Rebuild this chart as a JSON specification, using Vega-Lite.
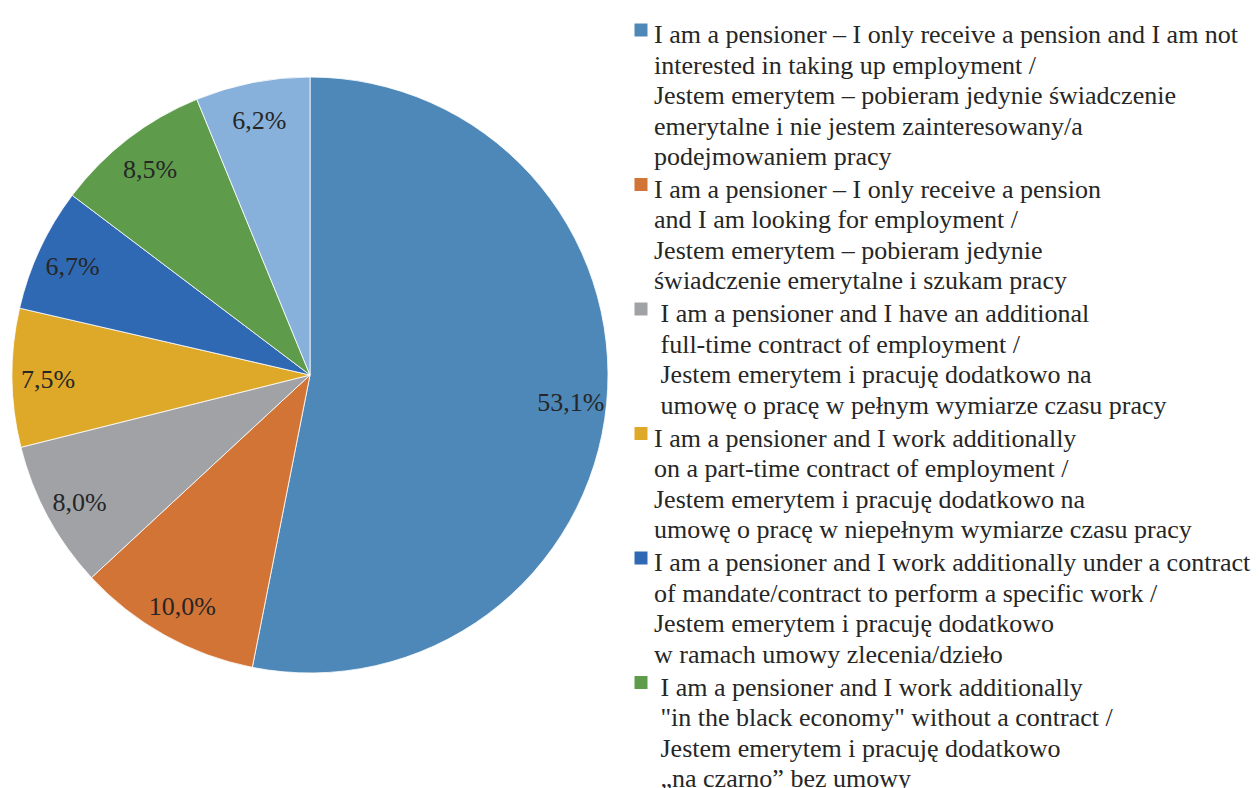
{
  "$schema": "https://vega.github.io/schema/vega-lite/v6.json",
  "width": 620,
  "height": 750,
  "autosize": {"type": "none"},
  "padding": {"left": 0, "top": 0, "right": 639, "bottom": 38},
  "background": "white",
  "data": {
    "values": [
      {"order": 1, "category": "I am a pensioner – I only receive a pension and I am not|interested in taking up employment /|Jestem emerytem – pobieram jedynie świadczenie|emerytalne i nie jestem zainteresowany/a|podejmowaniem pracy", "value": 53.1, "label": "53,1%"},
      {"order": 2, "category": "I am a pensioner – I only receive a pension|and I am looking for employment /|Jestem emerytem – pobieram jedynie|świadczenie emerytalne i szukam pracy", "value": 10.0, "label": "10,0%"},
      {"order": 3, "category": "\u200b\u00a0I am a pensioner and I have an additional|\u200b\u00a0full-time contract of employment /|\u200b\u00a0Jestem emerytem i pracuję dodatkowo na|\u200b\u00a0umowę o pracę w pełnym wymiarze czasu pracy", "value": 8.0, "label": "8,0%"},
      {"order": 4, "category": "I am a pensioner and I work additionally|on a part-time contract of employment /|Jestem emerytem i pracuję dodatkowo na|umowę o pracę w niepełnym wymiarze czasu pracy", "value": 7.5, "label": "7,5%"},
      {"order": 5, "category": "I am a pensioner and I work additionally under a contract|of mandate/contract to perform a specific work /|Jestem emerytem i pracuję dodatkowo|w ramach umowy zlecenia/dzieło", "value": 6.7, "label": "6,7%"},
      {"order": 6, "category": "\u200b\u00a0I am a pensioner and I work additionally|\u200b\u00a0\"in the black economy\" without a contract /|\u200b\u00a0Jestem emerytem i pracuję dodatkowo|\u200b\u00a0„na czarno” bez umowy", "value": 8.5, "label": "8,5%"},
      {"order": 7, "category": "Other / Inne", "value": 6.2, "label": "6,2%"}
    ]
  },
  "encoding": {
    "theta": {"field": "value", "type": "quantitative", "stack": true},
    "order": {"field": "order", "type": "quantitative", "sort": "ascending"}
  },
  "layer": [
    {
      "mark": {"type": "arc", "outerRadius": 298, "stroke": "white", "strokeWidth": 0.8},
      "encoding": {
        "color": {
          "field": "category",
          "type": "nominal",
          "scale": {
            "domain": [
              "I am a pensioner – I only receive a pension and I am not|interested in taking up employment /|Jestem emerytem – pobieram jedynie świadczenie|emerytalne i nie jestem zainteresowany/a|podejmowaniem pracy",
              "I am a pensioner – I only receive a pension|and I am looking for employment /|Jestem emerytem – pobieram jedynie|świadczenie emerytalne i szukam pracy",
              "\u200b\u00a0I am a pensioner and I have an additional|\u200b\u00a0full-time contract of employment /|\u200b\u00a0Jestem emerytem i pracuję dodatkowo na|\u200b\u00a0umowę o pracę w pełnym wymiarze czasu pracy",
              "I am a pensioner and I work additionally|on a part-time contract of employment /|Jestem emerytem i pracuję dodatkowo na|umowę o pracę w niepełnym wymiarze czasu pracy",
              "I am a pensioner and I work additionally under a contract|of mandate/contract to perform a specific work /|Jestem emerytem i pracuję dodatkowo|w ramach umowy zlecenia/dzieło",
              "\u200b\u00a0I am a pensioner and I work additionally|\u200b\u00a0\"in the black economy\" without a contract /|\u200b\u00a0Jestem emerytem i pracuję dodatkowo|\u200b\u00a0„na czarno” bez umowy",
              "Other / Inne"
            ],
            "range": ["#4D88B9", "#D17436", "#A1A2A6", "#DEA829", "#2F69B3", "#5E9C4B", "#87B0DA"]
          },
          "legend": {
            "title": null,
            "orient": "none",
            "legendX": 628,
            "legendY": 17,
            "padding": 0,
            "symbolType": "square",
            "symbolSize": 169,
            "symbolStrokeWidth": 0,
            "labelFont": "Liberation Serif",
            "labelFontSize": 26,
            "labelColor": "#262626",
            "labelLimit": 0,
            "labelOffset": 0,
            "labelBaseline": "top",
            "rowPadding": 1.5,
            "values": [
              "I am a pensioner – I only receive a pension and I am not|interested in taking up employment /|Jestem emerytem – pobieram jedynie świadczenie|emerytalne i nie jestem zainteresowany/a|podejmowaniem pracy",
              "I am a pensioner – I only receive a pension|and I am looking for employment /|Jestem emerytem – pobieram jedynie|świadczenie emerytalne i szukam pracy",
              "\u200b\u00a0I am a pensioner and I have an additional|\u200b\u00a0full-time contract of employment /|\u200b\u00a0Jestem emerytem i pracuję dodatkowo na|\u200b\u00a0umowę o pracę w pełnym wymiarze czasu pracy",
              "I am a pensioner and I work additionally|on a part-time contract of employment /|Jestem emerytem i pracuję dodatkowo na|umowę o pracę w niepełnym wymiarze czasu pracy",
              "I am a pensioner and I work additionally under a contract|of mandate/contract to perform a specific work /|Jestem emerytem i pracuję dodatkowo|w ramach umowy zlecenia/dzieło",
              "\u200b\u00a0I am a pensioner and I work additionally|\u200b\u00a0\"in the black economy\" without a contract /|\u200b\u00a0Jestem emerytem i pracuję dodatkowo|\u200b\u00a0„na czarno” bez umowy"
            ],
            "labelExpr": "split(datum.label, '|')"
          }
        }
      }
    },
    {
      "mark": {"type": "text", "radius": 262, "dy": 3, "font": "Liberation Serif", "fontSize": 26, "color": "#262626"},
      "encoding": {
        "text": {"field": "label", "type": "nominal"}
      }
    }
  ],
  "config": {
    "view": {"stroke": null},
    "style": {"guide-label": {"lineHeight": 30.5, "dy": -8}}
  }
}
